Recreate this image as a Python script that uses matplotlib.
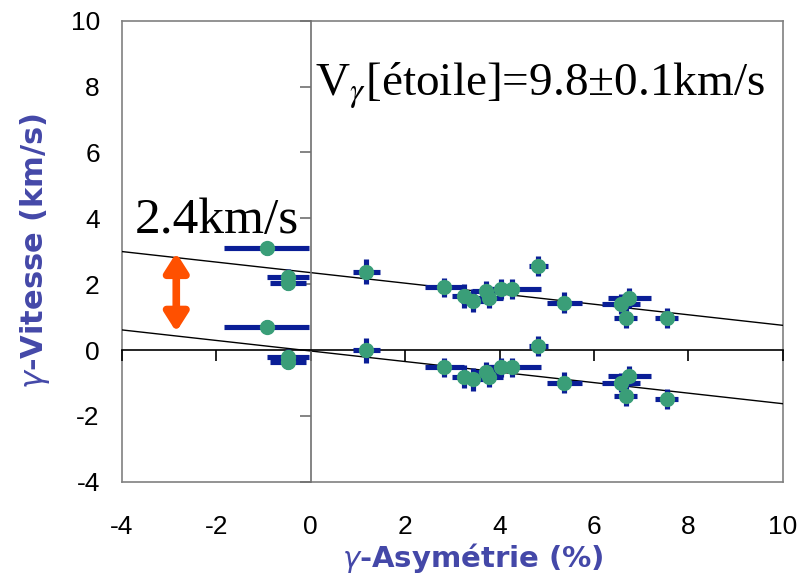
import matplotlib
matplotlib.use("Agg")
import matplotlib.pyplot as plt
import numpy as np

plt.rcParams["axes.unicode_minus"] = False
plt.rcParams["font.family"] = ["Liberation Sans", "DejaVu Sans"]

# Measured asymmetry (%) and gamma velocities (km/s) for two line sets
asym = [-0.93, -0.48, -0.48, 1.18, 2.83, 3.25, 3.43, 3.71, 3.78, 4.03, 4.27,
        4.82, 5.37, 6.58, 6.75, 6.67, 7.54]
asym_err = [0.90, 0.45, 0.38, 0.28, 0.42, 0.25, 0.25, 0.30, 0.30, 0.30, 0.60,
            0.20, 0.37, 0.40, 0.45, 0.25, 0.25]
vel_upper = [3.09, 2.23, 2.03, 2.38, 1.90, 1.64, 1.50, 1.79, 1.57, 1.85, 1.85,
             2.56, 1.44, 1.39, 1.59, 0.98, 0.98]
vel_lower = [0.71, -0.20, -0.35, 0.00, -0.53, -0.81, -0.89, -0.66, -0.81, -0.53,
             -0.53, 0.12, -0.99, -0.99, -0.79, -1.40, -1.49]
vel_err = [0.20, 0.22, 0.22, 0.38, 0.28, 0.35, 0.35, 0.30, 0.30, 0.30, 0.30,
           0.31, 0.33, 0.30, 0.30, 0.30, 0.30]

# Linear fits: v = intercept + slope * asymmetry
fit_slope = -0.16
fit_intercepts = [2.35, -0.03]

# Velocity offset between the two sets
offset_x = -2.85
offset_range = [0.55, 2.95]

xticks = [-4, -2, 0, 2, 4, 6, 8, 10]
yticks = [-4, -2, 0, 2, 4, 6, 8, 10]

bar_color = "#0A1E96"
dot_color = "#3A9E78"
label_color = "#4448A8"
arrow_color = "#FF5000"

fig = plt.figure(figsize=(8.09, 5.79), dpi=100)
rect = [0.1508, 0.168, 0.8167, 0.7962]
ax = fig.add_axes(rect)
ax.set_xlim(-4, 10)
ax.set_ylim(-4, 10)
for s in ax.spines.values():
    s.set_color("#808080")
    s.set_linewidth(1.2)
ax.set_xticks(xticks)
ax.set_yticks(yticks)
ax.tick_params(length=0, labelsize=19)
ax.tick_params(axis="x", pad=24)
ax.tick_params(axis="y", pad=16)

# Axes crossing at the origin, with their own tick marks
ax0 = fig.add_axes(rect, sharex=ax, sharey=ax)
ax0.patch.set_visible(False)
ax0.spines["left"].set_position(("data", 0))
ax0.spines["bottom"].set_position(("data", 0))
ax0.spines["left"].set_color("#707070")
ax0.spines["left"].set_linewidth(1.2)
ax0.spines["bottom"].set_color("black")
ax0.spines["bottom"].set_linewidth(1.2)
ax0.spines["top"].set_visible(False)
ax0.spines["right"].set_visible(False)
ax0.tick_params(direction="out", length=8, width=1.2, labelleft=False,
                labelbottom=False)
ax0.tick_params(axis="y", color="#707070")

# Fitted lines
xx = np.array([-4, 10])
for b in fit_intercepts:
    ax0.plot(xx, b + fit_slope * xx, color="black", lw=1.0, zorder=2)

# Error bars then markers
for vel in (vel_upper, vel_lower):
    ax0.errorbar(asym, vel, xerr=asym_err, yerr=vel_err, fmt="none",
                 ecolor=bar_color, elinewidth=3.7, capsize=0, zorder=3)
for vel in (vel_upper, vel_lower):
    ax0.plot(asym, vel, "o", color=dot_color, markersize=11,
             markeredgewidth=0, zorder=4)

# Offset arrow
ax0.annotate("", xy=(offset_x, offset_range[1]), xytext=(offset_x, offset_range[0]),
             arrowprops=dict(arrowstyle="<|-|>,head_length=1.1,head_width=0.7",
                             color=arrow_color, lw=5.5, shrinkA=0, shrinkB=0),
             zorder=5)

delta = offset_range[1] - offset_range[0]
ax0.text(-3.72, 3.55, f"{delta:.1f}km/s", fontsize=37, family="Liberation Serif",
         ha="left", va="baseline", zorder=6)
ax0.text(0.08, 7.72, r"V$_{\gamma}$[étoile]=9.8±0.1km/s", fontsize=34,
         family="Liberation Serif", ha="left", va="baseline", zorder=6,
         math_fontfamily="stix")

fig.text(0.585, 0.036, r"$\gamma$-Asymétrie (%)", fontsize=21, fontweight="bold",
         color=label_color, ha="center", va="center", family="DejaVu Sans")
fig.text(0.043, 0.566, r"$\gamma$-Vitesse (km/s)", fontsize=22, fontweight="bold",
         color=label_color, ha="center", va="center", rotation=90,
         family="DejaVu Sans")

fig.savefig("out.png", dpi=100)
